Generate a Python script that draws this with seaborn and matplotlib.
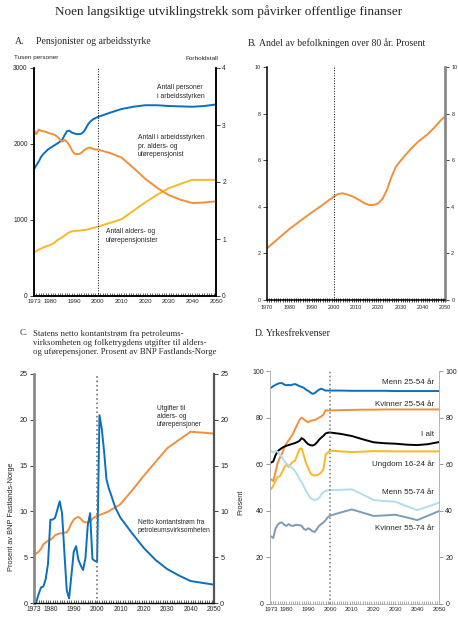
import numpy as np
import matplotlib
matplotlib.use("Agg")
import matplotlib.pyplot as plt
from matplotlib.ticker import MultipleLocator, FixedLocator
import seaborn as sns

# ---------------- data ----------------
# Panel A: pensjonister og arbeidsstyrke
a_years = list(range(1973, 2001)) + list(range(2005, 2051, 5))
a_arbeidsstyrke = [1670, 1720, 1770, 1830, 1870, 1900, 1930, 1950, 1970, 1990,
                   2010, 2030, 2060, 2120, 2170, 2175, 2150, 2140, 2130, 2130,
                   2135, 2160, 2210, 2265, 2300, 2325, 2340, 2355,
                   2410, 2460, 2490, 2510, 2510, 2500, 2495, 2490, 2500, 2520]
a_pensjonister = [575, 592, 610, 625, 640, 651, 662, 672, 690, 710,
                  738, 755, 773, 797, 820, 839, 850, 856, 858, 860,
                  863, 867, 870, 878, 887, 895, 904, 913,
                  960, 1010, 1120, 1230, 1330, 1418, 1475, 1528, 1528, 1528]
a_forholdstall = [2.91, 2.84, 2.92, 2.90, 2.89, 2.88, 2.86, 2.85, 2.84, 2.82,
                  2.79, 2.74, 2.71, 2.74, 2.70, 2.64, 2.56, 2.50, 2.49, 2.49,
                  2.51, 2.55, 2.58, 2.60, 2.60, 2.58, 2.57, 2.57,
                  2.51, 2.43, 2.25, 2.06, 1.90, 1.77, 1.69, 1.63, 1.64, 1.66]

# Panel B: andel over 80 år
b_years = [1970, 1975, 1980, 1985, 1990, 1995, 1998, 1999, 2000, 2002, 2004,
           2006, 2008, 2010, 2012, 2014, 2016, 2018, 2020, 2022, 2024, 2026,
           2028, 2030, 2032, 2035, 2038, 2040, 2042, 2045, 2048, 2050]
b_andel = [2.22, 2.63, 3.04, 3.40, 3.75, 4.08, 4.30, 4.35, 4.44, 4.55, 4.58,
           4.53, 4.46, 4.37, 4.26, 4.14, 4.08, 4.08, 4.15, 4.35, 4.75, 5.30,
           5.73, 5.97, 6.20, 6.52, 6.80, 6.95, 7.10, 7.38, 7.70, 7.88]

# Panel C: kontantstrøm og pensjonsutgifter
c_years = list(range(1973, 2011)) + list(range(2015, 2051, 5))
c_petroleum = [0.0, 0.1, 1.0, 1.7, 1.8, 2.6, 4.3, 9.1, 9.1, 9.3,
               10.2, 11.1, 9.8, 5.5, 1.4, 0.5, 3.0, 5.6, 6.2, 4.7,
               4.1, 3.6, 4.9, 8.5, 9.8, 4.8, 4.6, 4.5, 20.5, 19.0,
               16.5, 13.5, 12.5, 11.8, 11.0, 10.3, 9.8, 9.3,
               7.6, 6.0, 4.7, 3.7, 3.0, 2.4, 2.2, 2.0]
c_pensjon = [5.3, 5.4, 5.6, 5.9, 6.4, 6.6, 6.8, 6.9, 7.1, 7.4,
             7.5, 7.6, 7.6, 7.7, 7.7, 8.1, 8.7, 9.1, 9.3, 9.4,
             9.2, 8.9, 8.8, 8.8, 8.9, 9.2, 9.4, 9.5, 9.6, 9.7,
             9.8, 9.9, 10.0, 10.2, 10.3, 10.5, 10.6, 10.8,
             12.3, 13.9, 15.4, 16.9, 17.8, 18.7, 18.6, 18.5]

# Panel D: yrkesfrekvenser
d_years = list(range(1973, 2001)) + list(range(2005, 2051, 5))
d_menn_25_54 = [92.8, 93.5, 94.0, 94.5, 94.8, 94.8, 94.2, 93.9, 94.0, 93.9,
                94.2, 94.4, 94.0, 93.5, 93.2, 92.8, 92.0, 91.5, 90.8, 90.2,
                90.5, 91.3, 92.0, 92.4, 92.0, 91.6, 91.6, 91.6,
                91.6, 91.5, 91.5, 91.5, 91.5, 91.4, 91.4, 91.4, 91.4, 91.4]
d_kvinner_25_54 = [53.5, 52.8, 56.5, 60.5, 62.8, 64.5, 67.2, 68.8, 70.2, 71.5,
                   73.0, 75.0, 77.0, 79.0, 80.0, 79.3, 78.5, 78.0, 78.6, 78.8,
                   79.0, 79.4, 80.0, 80.5, 81.3, 83.2, 83.0, 83.1,
                   83.2, 83.3, 83.4, 83.4, 83.5, 83.5, 83.5, 83.5, 83.5, 83.5]
d_i_alt = [60.7, 61.2, 63.8, 65.5, 66.3, 67.0, 67.5, 67.9, 68.2, 68.5,
           68.8, 69.1, 69.5, 70.0, 71.2, 70.6, 69.5, 68.6, 68.2, 68.0,
           68.4, 69.3, 70.5, 71.4, 72.2, 73.2, 73.5, 73.6,
           73.0, 72.1, 70.7, 69.4, 69.0, 68.8, 68.4, 68.2, 68.6, 69.5]
d_ungdom = [49.3, 50.7, 52.8, 54.6, 54.8, 56.5, 58.5, 59.8, 58.8, 60.0,
            61.0, 61.5, 63.8, 66.5, 66.8, 63.8, 60.5, 58.5, 56.2, 55.3,
            55.2, 55.3, 55.7, 56.5, 57.8, 64.0, 65.0, 65.8,
            65.5, 65.2, 65.4, 65.6, 65.6, 65.5, 65.5, 65.5, 65.5, 65.5]
d_menn_55_74 = [65.7, 64.9, 65.7, 65.3, 64.3, 63.0, 61.3, 60.3, 59.5, 58.8,
                58.1, 57.0, 55.5, 53.7, 52.2, 50.5, 48.5, 47.0, 45.5, 44.9,
                44.7, 44.9, 45.5, 47.0, 48.0, 48.5, 48.8, 48.9,
                49.0, 49.2, 47.0, 44.6, 44.2, 43.9, 42.0, 40.3, 41.8, 43.5]
d_kvinner_55_74 = [29.0, 28.3, 32.3, 34.0, 34.8, 35.0, 34.0, 33.5, 34.3, 33.7,
                   33.5, 33.9, 34.0, 33.8, 33.6, 32.2, 31.8, 32.5, 32.0, 31.2,
                   30.9, 32.2, 33.5, 34.3, 35.0, 36.0, 37.2, 37.9,
                   39.3, 40.6, 39.2, 37.8, 38.0, 38.3, 37.2, 36.0, 37.9, 39.9]

x_labels_a = [1973, 1980, 1990, 2000, 2010, 2020, 2030, 2040, 2050]
x_labels_b = [1970, 1980, 1990, 2000, 2010, 2020, 2030, 2040, 2050]

BLUE = "#0b6fbd"
ORANGE = "#f0903a"
YELLOW = "#f6b928"
LIGHTBLUE = "#b3dcec"
GRAYBLUE = "#7d9bb4"

sns.set_style("white")
plt.rcParams["font.family"] = ["Liberation Sans", "DejaVu Sans"]
SERIF = ["Liberation Serif", "DejaVu Serif"]

W, H = 458, 620
fig = plt.figure(figsize=(W / 100, H / 100), dpi=100)


def box(x0, y0, x1, y1):
    return [x0 / W, 1 - y1 / H, (x1 - x0) / W, (y1 - y0) / H]


def ftext(x, y, s, **kw):
    fig.text(x / W, 1 - y / H, s, **kw)


def style_axis(ax, years, labels, xfs, yfs, tick_dir="in"):
    ax.set_xlim(years)
    ax.xaxis.set_major_locator(FixedLocator(labels))
    ax.xaxis.set_minor_locator(MultipleLocator(1))
    ax.tick_params(axis="x", which="both", direction=tick_dir, length=2.5,
                   width=0.5, labelsize=xfs, pad=2, bottom=True)
    ax.tick_params(axis="y", which="both", direction="out", length=3,
                   width=0.6, labelsize=yfs, pad=1.5, left=True, right=True,
                   labelright=True)
    ax.spines["top"].set_visible(False)
    ax.set_xlabel("")
    ax.set_ylabel("")


# ---------------- A ----------------
axA = fig.add_axes(box(34, 68, 216, 296))
sns.lineplot(x=a_years, y=a_arbeidsstyrke, ax=axA, color=BLUE, lw=1.4)
sns.lineplot(x=a_years, y=a_pensjonister, ax=axA, color=YELLOW, lw=1.4)
axA.set_ylim(0, 3000)
axA.set_yticks([0, 1000, 2000, 3000])
style_axis(axA, (1973, 2050), x_labels_a, 4.4, 4.8)
axA.tick_params(axis="y", right=False, labelright=False)
axA.axvline(2000, color="black", ls=":", lw=0.7)
axA2 = axA.twinx()
sns.lineplot(x=a_years, y=a_forholdstall, ax=axA2, color=ORANGE, lw=1.4)
axA2.set_ylim(0, 4)
axA2.set_yticks([0, 1, 2, 3, 4])
axA2.tick_params(axis="y", direction="out", length=3, width=0.6,
                 labelsize=4.8, pad=1.5)
axA2.spines["top"].set_visible(False)
axA2.set_ylabel("")
for sp in ["left", "bottom", "right"]:
    axA.spines[sp].set_color("black")
    axA.spines[sp].set_linewidth(1.1)
    axA2.spines[sp].set_color("black")
    axA2.spines[sp].set_linewidth(1.1)

ftext(15, 41, "A.", family=SERIF, fontsize=7, va="center")
ftext(36, 41, "Pensjonister og arbeidsstyrke", family=SERIF, fontsize=7,
      va="center")
ftext(14, 58, "Tusen personer", fontsize=4.6, va="center")
ftext(218, 58, "Forholdstall", fontsize=4.6, va="center", ha="right")
ftext(157, 92, "Antall personer\ni arbeidsstyrken", fontsize=4.9,
      va="center", linespacing=1.25)
ftext(138, 146, "Antall i arbeidsstyrken\npr. alders- og\nuførepensjonist",
      fontsize=4.9, va="center", linespacing=1.25)
ftext(106, 236, "Antall alders- og\nuførepensjonister", fontsize=4.9,
      va="center", linespacing=1.25)

# ---------------- B ----------------
axB = fig.add_axes(box(267, 67, 445, 300))
sns.lineplot(x=b_years, y=b_andel, ax=axB, color=ORANGE, lw=1.4)
axB.set_ylim(0, 10)
axB.set_yticks([0, 2, 4, 6, 8, 10])
style_axis(axB, (1970, 2050), x_labels_b, 3.9, 3.9, tick_dir="inout")
axB.tick_params(axis="x", which="both", length=3.5, width=0.6)
axB.axvline(2000, color="black", ls=":", lw=0.7)
axB.spines["left"].set_color("black")
axB.spines["left"].set_linewidth(1.1)
axB.spines["bottom"].set_color("black")
axB.spines["bottom"].set_linewidth(1.1)
axB.spines["right"].set_color("#8a8a8a")
axB.spines["right"].set_linewidth(2.0)
ftext(248, 43, "B.", family=SERIF, fontsize=7, va="center")
ftext(259, 43, "Andel av befolkningen over 80 år. Prosent", family=SERIF,
      fontsize=7, va="center")

# ---------------- C ----------------
axC = fig.add_axes(box(34, 374, 214, 603))
sns.lineplot(x=c_years, y=c_pensjon, ax=axC, color=ORANGE, lw=1.4)
sns.lineplot(x=c_years, y=c_petroleum, ax=axC, color=BLUE, lw=1.4)
axC.set_ylim(0, 25)
axC.set_yticks([0, 5, 10, 15, 20, 25])
style_axis(axC, (1973, 2050), x_labels_a, 4.8, 5.2)
axC.axvline(2000, color="#777777", ls=":", lw=1.2)
axC.spines["left"].set_color("#8a8a8a")
axC.spines["left"].set_linewidth(2.0)
axC.spines["right"].set_color("#555555")
axC.spines["right"].set_linewidth(1.6)
axC.spines["bottom"].set_color("black")
axC.spines["bottom"].set_linewidth(1.0)
ftext(20, 333, "C.", family=SERIF, fontsize=6.3, va="center")
ftext(33, 343, "Statens netto kontantstrøm fra petroleums-\n"
      "virksomheten og folketrygdens utgifter til alders-\n"
      "og uførepensjoner. Prosent av BNP Fastlands-Norge",
      family=SERIF, fontsize=6.3, va="center", linespacing=1.15)
ftext(157, 417, "Utgifter til\nalders- og\nuførepensjoner", fontsize=4.8,
      va="center", linespacing=1.2)
ftext(138, 527, "Netto kontantstrøm fra\npetroleumsvirksomheten",
      fontsize=4.8, va="center", linespacing=1.2)
ftext(12, 517, "Prosent av BNP Fastlands-Norge", fontsize=5.3, rotation=90,
      va="center", ha="center")

# ---------------- D ----------------
axD = fig.add_axes(box(270, 371, 439, 604))
d_series = [
    (d_menn_25_54, BLUE),
    (d_kvinner_25_54, ORANGE),
    (d_i_alt, "black"),
    (d_ungdom, YELLOW),
    (d_menn_55_74, LIGHTBLUE),
    (d_kvinner_55_74, GRAYBLUE),
]
for vals, col in d_series:
    sns.lineplot(x=d_years, y=vals, ax=axD, color=col, lw=1.4)
axD.set_ylim(0, 100)
axD.set_yticks([0, 20, 40, 60, 80, 100])
style_axis(axD, (1972.5, 2050), x_labels_a, 4.3, 5.0)
axD.axvline(2000, color="#777777", ls=":", lw=1.1)
for sp in ["left", "right", "bottom"]:
    axD.spines[sp].set_color("#aaaaaa")
    axD.spines[sp].set_linewidth(0.6)
axD.tick_params(axis="both", which="both", color="#888888")

d_labels = [("Menn 25-54 år", 383), ("Kvinner 25-54 år", 404),
            ("I alt", 435), ("Ungdom 16-24 år", 464),
            ("Menn 55-74 år", 493), ("Kvinner 55-74 år", 528)]
for lab, yy in d_labels:
    ftext(434, yy, lab, fontsize=5.8, ha="right", va="center")
ftext(241, 502, "Prosent", fontsize=5.3, rotation=90, va="center",
      ha="center")
ftext(255, 334, "D.", family=SERIF, fontsize=7, va="center")
ftext(266, 334, "Yrkesfrekvenser", family=SERIF, fontsize=7, va="center")

# ---------------- title ----------------
ftext(229, 12, "Noen langsiktige utviklingstrekk som påvirker offentlige finanser",
      family=SERIF, fontsize=9.5, ha="center", va="center")

fig.savefig("out.png", dpi=100)
